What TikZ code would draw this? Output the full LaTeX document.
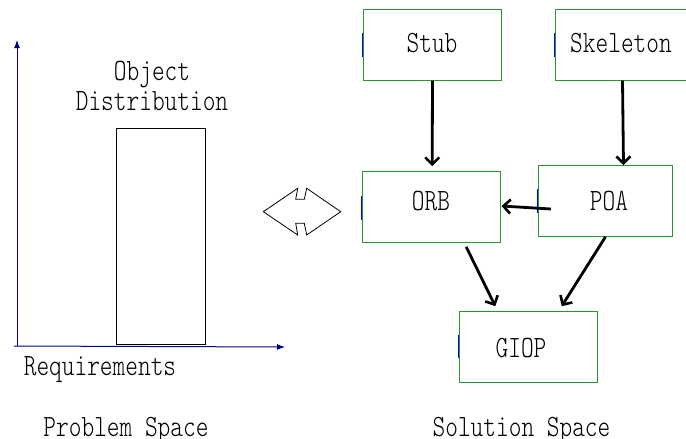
\documentclass[tikz,border=0pt]{standalone}
\usepackage{fontspec}
\newfontfamily\diagfont[FakeStretch=0.78]{lmmonolt10-regular.otf}
\usetikzlibrary{arrows.meta,calc}
\definecolor{boxgreen}{RGB}{40,150,40}
\definecolor{axisblue}{RGB}{0,0,140}
\tikzset{
  txt/.style={font=\diagfont\fontsize{31}{33}\selectfont, inner sep=0pt, anchor=base},
  comp/.style={draw=boxgreen, line width=1pt, inner sep=0pt},
  flow/.style={line width=2.8pt, -{Straight Barb[length=7pt,width=14pt,line width=2.6pt]}},
  axis/.style={draw=axisblue, line width=1pt, -{Latex[length=8pt,width=6pt]}},
  edgetick/.style={draw=blue, line width=1pt},
}
\begin{document}
\begin{tikzpicture}[x=1pt,y=-1pt]
\useasboundingbox (0,0) rectangle (686,439);

% problem space: axes and the object distribution bar
\coordinate (origin) at (17,346);
\coordinate (ytop) at (17,40);
\coordinate (xend) at (285,347);
\coordinate (xstart) at (14,346);
\draw[axis] (origin) -- (ytop);
\draw[axis] (xstart) -- (xend);
\node[draw=black, line width=0.8pt, minimum width=89pt, minimum height=216pt, inner sep=0pt]
  (bar) at (160.5,236) {};
\node[txt] (objA) at (152,80) {Object};
\node[txt] (objB) at (152,110) {Distribution};
\node[txt] (req) at (100,375) {Requirements};
\node[txt] (ps) at (126,436) {Problem Space};
\node[txt] (ss) at (521.5,436) {Solution Space};

% double-headed arrow between the two spaces
\draw[line width=0.8pt, line join=miter]
  (263.3,211.7) -- (297.7,188.3) -- (295.7,199.3) -- (304.3,199.3) -- (306.7,188.3)
  -- (340.7,211.7) -- (306.7,235) -- (304.3,223.3) -- (295.7,223.3) -- (297.7,235) -- cycle;

% solution space components
\node[comp, minimum width=138.4pt, minimum height=70.7pt] (stub) at (432.5,44.7) {};
\node[comp, minimum width=135pt, minimum height=70.7pt] (skel) at (622.5,44.7) {};
\node[comp, minimum width=137.7pt, minimum height=70.6pt] (orb) at (431.2,207) {};
\node[comp, minimum width=134.4pt, minimum height=70.6pt] (poa) at (605.5,201) {};
\node[comp, minimum width=138pt, minimum height=71pt] (giop) at (528.3,347.2) {};

\node[txt] (stubT) at (432,52) {Stub};
\node[txt] (skelT) at (621,52) {Skeleton};
\node[txt] (orbT) at (431,210) {ORB};
\node[txt] (poaT) at (609,210) {POA};
\node[txt] (giopT) at (521,357) {GIOP};

% small blue ticks on the left edges
\draw[edgetick] ($(stub.west)+(0,-12)$) -- ($(stub.west)+(0,12)$);
\draw[edgetick] ($(skel.west)+(0,-12)$) -- ($(skel.west)+(0,12)$);
\draw[edgetick] ($(orb.west)+(0,-11)$) -- ($(orb.west)+(0,13)$);
\draw[edgetick] ($(poa.west)+(0,-12)$) -- ($(poa.west)+(0,12)$);
\draw[edgetick] ($(giop.west)+(0,-12)$) -- ($(giop.west)+(0,11)$);

% connectors
\draw[flow] (stub.south) -- ($(orb.north)+(1,-5)$);
\draw[flow] (skel.south) -- ($(poa.north)+(18,0)$);
\draw[flow] ($(poa.west)+(13,8)$) -- ($(orb.east)+(1,-1)$);
\draw[flow] ($(orb.south)+(35,4)$) -- ($(giop.north)+(-33,-5)$);
\draw[flow] ($(poa.south)+(0,0)$) -- ($(giop.north)+(33.4,-5)$);
\end{tikzpicture}
\end{document}
